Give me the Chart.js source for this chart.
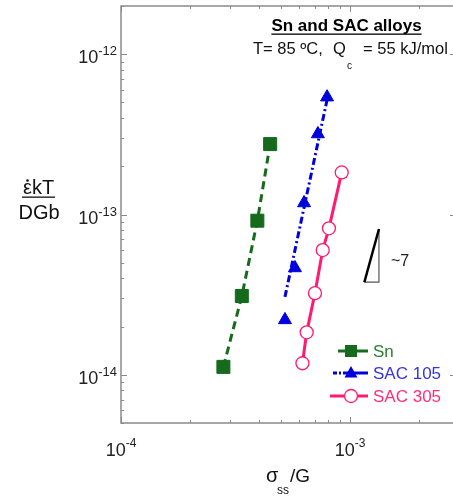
<!DOCTYPE html>
<html>
<head>
<meta charset="utf-8">
<script src="https://cdn.jsdelivr.net/npm/chart.js@4.4.0/dist/chart.umd.min.js"></script>
<style>
  html, body { margin:0; padding:0; background:#fff; overflow:hidden; }
  #wrap { position:absolute; left:0; top:0; width:453px; height:497px; }
</style>
</head>
<body>
<div id="wrap"><canvas id="chart" width="453" height="497"></canvas></div>
<script>
/* ---------- data ---------- */
const snX       = [2.80e-4, 3.37e-4, 3.94e-4, 4.48e-4];
const snY       = [1.12e-14, 3.10e-14, 9.15e-14, 2.75e-13];

const sac105X   = [5.20e-4, 5.75e-4, 6.30e-4, 7.24e-4, 7.94e-4];
const sac105Y   = [2.20e-14, 4.64e-14, 1.18e-13, 3.18e-13, 5.40e-13];
const sac105FitX = [5.20e-4, 8.02e-4];
const sac105FitY = [3.06e-14, 5.55e-13];

const sac305X   = [6.20e-4, 6.47e-4, 7.03e-4, 7.60e-4, 8.09e-4, 9.20e-4];
const sac305Y   = [1.18e-14, 1.84e-14, 3.23e-14, 6.00e-14, 8.20e-14, 1.83e-13];

// slope triangle: hypotenuse = first two points, legs = last three
const slopeX    = [1.155e-3, 1.338e-3, 1.338e-3, 1.155e-3];
const slopeY    = [3.78e-14, 8.12e-14, 3.78e-14, 3.78e-14];

// visible x range (the axis runs on past the right edge of the picture)
const xMin = 1e-4, xMax = 2.817e-3;
const yMin = 5e-15, yMax = 2e-12;

const xTicks    = [1e-4,2e-4,3e-4,4e-4,5e-4,6e-4,7e-4,8e-4,9e-4,1e-3,2e-3];
const yTicks    = [5e-15,6e-15,7e-15,8e-15,9e-15,
                   1e-14,2e-14,3e-14,4e-14,5e-14,6e-14,7e-14,8e-14,9e-14,
                   1e-13,2e-13,3e-13,4e-13,5e-13,6e-13,7e-13,8e-13,9e-13,
                   1e-12,2e-12];
const xMajors   = [1e-4, 1e-3];
const xMajorExp = ["-4", "-3"];
const yMajors   = [1e-14, 1e-13, 1e-12];
const yMajorExp = ["-14", "-13", "-12"];

const legendNames = ["Sn", "SAC 105", "SAC 305"];

/* ---------- colours / fonts ---------- */
const GREEN = "#166a1c";
const BLUE  = "#0000dd";
const PINK  = "#ff1a72";
const FACE  = "'Liberation Sans', Arial, sans-serif";
const font  = (px, bold) => (bold ? "bold " : "") + px + "px " + FACE;

const pts = (xs, ys) => xs.map((v, i) => ({ x: v, y: ys[i] }));
const isMajor = v => Math.abs(Math.log10(v) - Math.round(Math.log10(v))) < 1e-6;

/* ---------- frame + inward ticks ---------- */
const frame = {
  id: "frame",
  beforeDatasetsDraw(chart) {
    const { ctx, chartArea: a, scales: { x, y } } = chart;
    ctx.save();
    ctx.strokeStyle = "#8a8a8a";
    ctx.lineWidth = 1.5;
    ctx.beginPath();
    ctx.moveTo(chart.width, a.top);
    ctx.lineTo(a.left, a.top);
    ctx.lineTo(a.left, a.bottom);
    ctx.lineTo(chart.width, a.bottom);
    ctx.stroke();

    ctx.lineWidth = 1;
    ctx.beginPath();
    xTicks.forEach(v => {
      const px = Math.round(x.getPixelForValue(v)) + 0.5;
      const len = isMajor(v) ? 6 : 3;
      ctx.moveTo(px, a.bottom); ctx.lineTo(px, a.bottom - len);
      ctx.moveTo(px, a.top);    ctx.lineTo(px, a.top + len);
    });
    yTicks.forEach(v => {
      const py = Math.round(y.getPixelForValue(v)) + 0.5;
      const len = isMajor(v) ? 6 : 3;
      ctx.moveTo(a.left, py);  ctx.lineTo(a.left + len, py);
      // right axis lies just outside the picture: only the major tick tips show
      if (isMajor(v)) { ctx.moveTo(a.right, py); ctx.lineTo(a.right - 3, py); }
    });
    ctx.stroke();
    ctx.restore();
  }
};

/* ---------- texts, tick labels, legend ---------- */
const texts = {
  id: "texts",
  afterDraw(chart) {
    const { ctx, scales: { x, y } } = chart;
    ctx.save();
    ctx.textBaseline = "alphabetic";
    ctx.fillStyle = "#222";

    // x tick labels: 10^n
    xMajors.forEach((v, i) => {
      ctx.font = font(18);
      const wb = ctx.measureText("10").width;
      ctx.font = font(12);
      const we = ctx.measureText(xMajorExp[i]).width;
      const left = x.getPixelForValue(v) - (wb + we) / 2;
      ctx.textAlign = "left";
      ctx.font = font(18);
      ctx.fillText("10", left, 456);
      ctx.font = font(12);
      ctx.fillText(xMajorExp[i], left + wb, 447);
    });

    // y tick labels
    yMajors.forEach((v, i) => {
      const py = y.getPixelForValue(v);
      ctx.font = font(13);
      const we = ctx.measureText(yMajorExp[i]).width;
      ctx.textAlign = "right";
      ctx.fillText(yMajorExp[i], 117, py + 1);
      ctx.font = font(18);
      ctx.fillText("10", 117 - we, py + 9);
    });

    // y axis title (strain rate with a dot over epsilon)
    ctx.fillStyle = "#111";
    ctx.textAlign = "left";
    ctx.font = font(20);
    ctx.fillText("\u03B5kT", 23, 194);
    ctx.beginPath();
    ctx.arc(27.5, 180.5, 1.3, 0, Math.PI * 2);
    ctx.fill();
    ctx.fillRect(22, 196.5, 33, 1.3);
    ctx.textAlign = "center";
    ctx.fillText("DGb", 39, 219);

    // x axis title
    ctx.textAlign = "left";
    ctx.font = font(20);
    ctx.fillText("\u03C3", 266, 482);
    ctx.font = font(12);
    ctx.fillText("ss", 277, 494);
    ctx.font = font(19);
    ctx.fillText("/G", 290, 482);

    // title
    ctx.font = font(17, true);
    ctx.textAlign = "center";
    ctx.fillStyle = "#000";
    ctx.fillText("Sn and SAC alloys", 346.5, 31);
    const tw = ctx.measureText("Sn and SAC alloys").width;
    ctx.fillRect(346.5 - tw / 2, 33.5, tw, 1.3);

    // condition line
    ctx.textAlign = "left";
    ctx.fillStyle = "#111";
    ctx.font = font(16.5);
    ctx.fillText("T= 85 \u00BAC,", 253, 54);
    ctx.fillText("Q", 333, 54);
    ctx.fillText("= 55 kJ/mol", 363, 54);
    ctx.font = font(10);
    ctx.fillText("c", 347, 69);

    // slope note
    ctx.font = font(16);
    ctx.fillStyle = "#222";
    ctx.fillText("~7", 391, 266);

    // legend
    const rows = [
      { name: legendNames[0], col: GREEN, txt: "#2e7d32", y: 351, x0: 338, dash: [], mark: "rect" },
      { name: legendNames[1], col: BLUE,  txt: "#3434e0", y: 373, x0: 333, dash: [4, 2, 2, 2], mark: "tri" },
      { name: legendNames[2], col: PINK,  txt: "#ff2d7a", y: 396, x0: 330, dash: [], mark: "circ" }
    ];
    rows.forEach(r => {
      ctx.strokeStyle = r.col;
      ctx.lineWidth = 3;
      ctx.setLineDash(r.dash);
      ctx.beginPath();
      ctx.moveTo(r.x0, r.y);
      ctx.lineTo(345, r.y);
      ctx.stroke();
      ctx.setLineDash([]);
      ctx.beginPath();
      ctx.moveTo(345, r.y);
      ctx.lineTo(368, r.y);
      ctx.stroke();
      const mx = 351;
      ctx.fillStyle = r.col;
      if (r.mark === "rect") {
        ctx.fillRect(mx - 6, r.y - 6, 12, 12);
      } else if (r.mark === "tri") {
        ctx.beginPath();
        ctx.moveTo(mx, r.y - 7);
        ctx.lineTo(mx + 6.5, r.y + 4.5);
        ctx.lineTo(mx - 6.5, r.y + 4.5);
        ctx.closePath();
        ctx.fill();
      } else {
        ctx.beginPath();
        ctx.arc(mx, r.y, 6.5, 0, Math.PI * 2);
        ctx.fillStyle = "#fff";
        ctx.fill();
        ctx.lineWidth = 1.3;
        ctx.stroke();
      }
      ctx.fillStyle = r.txt;
      ctx.font = font(17);
      ctx.textAlign = "left";
      ctx.fillText(r.name, 373, r.y + 6);
    });

    ctx.restore();
  }
};

/* ---------- chart ---------- */
new Chart(document.getElementById("chart"), {
  type: "scatter",
  data: {
    datasets: [
      { data: pts(slopeX.slice(0, 2), slopeY.slice(0, 2)), showLine: true, borderColor: "#000",
        borderWidth: 2.5, pointRadius: 0, order: 6 },
      { data: pts(slopeX.slice(1), slopeY.slice(1)), showLine: true, borderColor: "#555",
        borderWidth: 1.2, pointRadius: 0, order: 7 },
      { data: pts(snX, snY), showLine: true, borderColor: GREEN, borderWidth: 3, borderDash: [8, 5],
        pointStyle: "rect", pointRadius: 9.2, pointBackgroundColor: GREEN, pointBorderColor: GREEN,
        pointBorderWidth: 1, order: 1 },
      { data: pts(sac105FitX, sac105FitY), showLine: true, borderColor: BLUE, borderWidth: 3,
        borderDash: [7, 3, 2, 3], pointRadius: 0, order: 4 },
      { data: pts(sac105X, sac105Y), showLine: false, pointStyle: "triangle", pointRadius: 7.5,
        pointBackgroundColor: BLUE, pointBorderColor: BLUE, pointBorderWidth: 1, order: 2 },
      { data: pts(sac305X, sac305Y), showLine: true, borderColor: PINK, borderWidth: 3,
        pointStyle: "circle", pointRadius: 6.5, pointBackgroundColor: "#fff", pointBorderColor: PINK,
        pointBorderWidth: 1.3, order: 3 }
    ]
  },
  options: {
    responsive: false,
    animation: false,
    devicePixelRatio: 1,
    layout: { autoPadding: false, padding: { left: 121, top: 6, right: 0, bottom: 74 } },
    scales: {
      x: { type: "logarithmic", min: xMin, max: xMax, display: false },
      y: { type: "logarithmic", min: yMin, max: yMax, display: false }
    },
    plugins: { legend: { display: false }, tooltip: { enabled: false } },
    events: []
  },
  plugins: [frame, texts]
});
</script>
</body>
</html>
